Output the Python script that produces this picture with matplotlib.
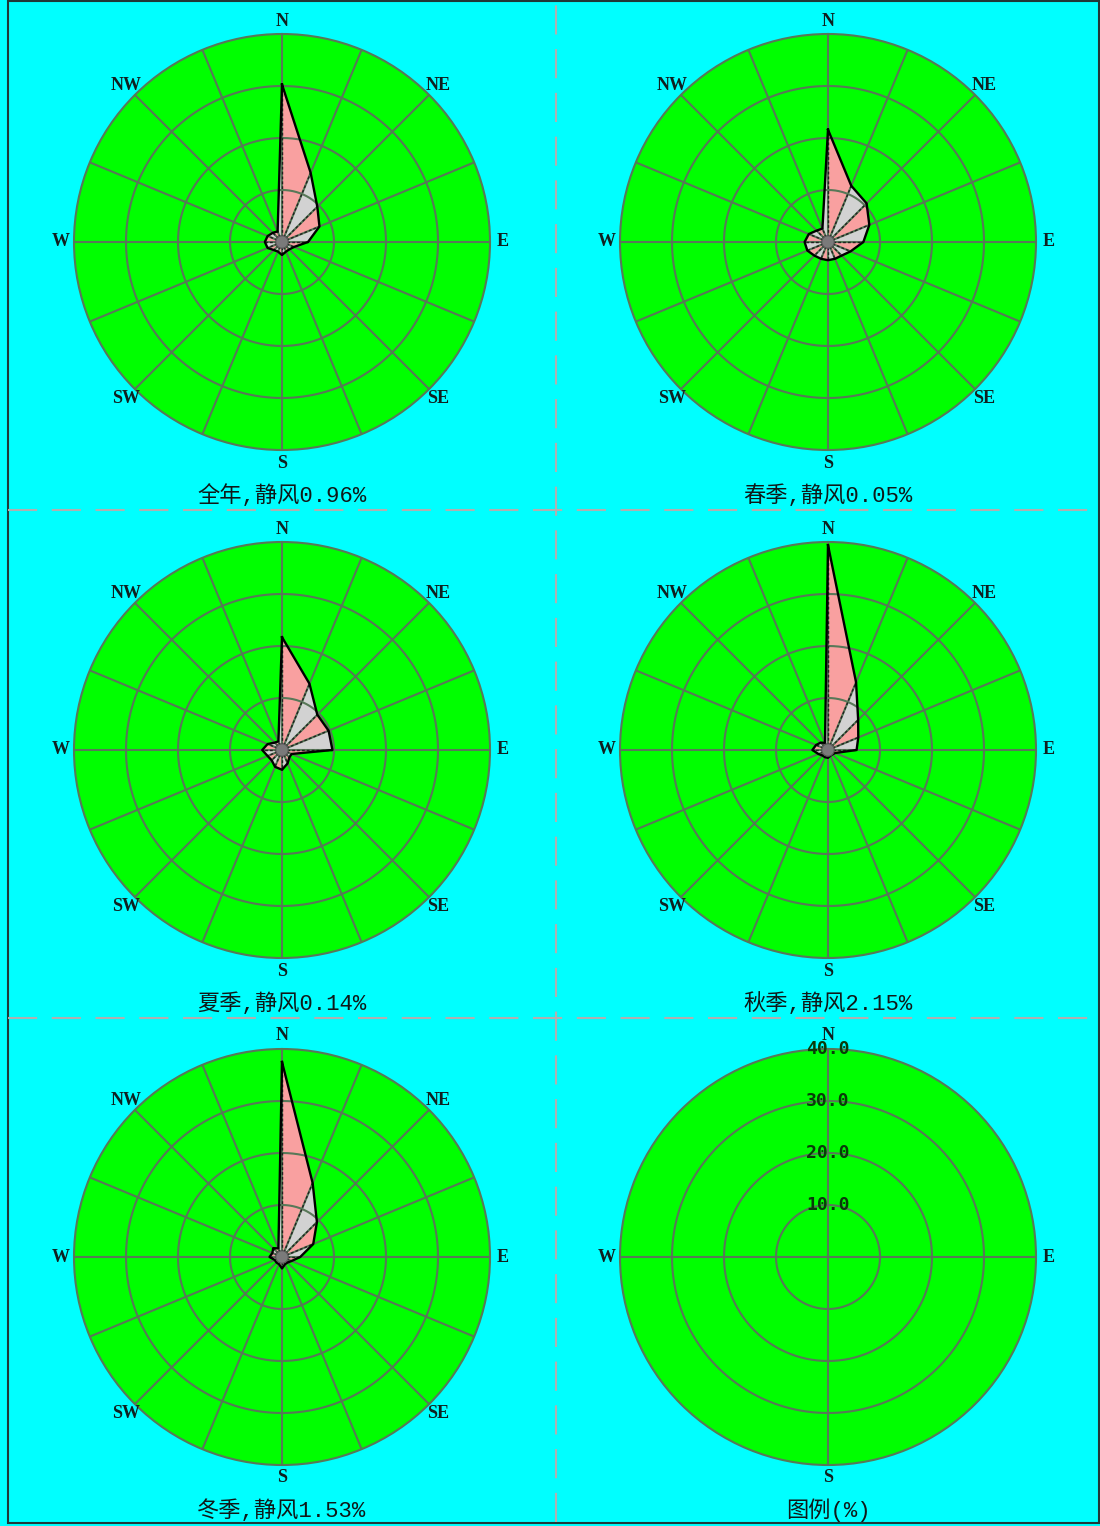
import numpy as np
import matplotlib
matplotlib.use("Agg")
import matplotlib.pyplot as plt
from matplotlib.lines import Line2D
from matplotlib.patches import Rectangle

# ---------------- data ----------------
directions = ['N', 'NNE', 'NE', 'ENE', 'E', 'ESE', 'SE', 'SSE',
              'S', 'SSW', 'SW', 'WSW', 'W', 'WNW', 'NW', 'NNW']
annual = [30.3, 14.4, 9.6, 7.8, 5.0, 2.5, 2.0, 2.0, 2.5, 2.0, 2.2, 3.0, 3.3, 3.0, 2.5, 2.2]
spring = [21.6, 11.7, 10.5, 8.6, 6.8, 4.7, 3.7, 3.5, 3.5, 3.5, 3.7, 4.3, 4.5, 4.0, 3.1, 2.8]
summer = [21.7, 13.8, 9.6, 9.7, 9.7, 2.0, 2.0, 2.8, 3.8, 3.5, 2.8, 3.0, 3.8, 3.0, 2.0, 1.8]
autumn = [39.4, 14.1, 8.2, 6.3, 5.5, 1.5, 1.2, 1.2, 1.5, 1.5, 1.5, 2.0, 3.0, 2.5, 2.0, 1.5]
winter = [37.5, 15.4, 9.5, 6.5, 3.5, 2.0, 1.5, 1.5, 2.2, 1.5, 1.5, 1.5, 2.4, 2.0, 2.4, 1.8]
season_values = [annual, spring, summer, autumn, winter]
season_names = ['全年', '春季', '夏季', '秋季', '冬季']
calm_pct = [0.96, 0.05, 0.14, 2.15, 1.53]
legend_title = '图例(%)'
ring_values = [10, 20, 30, 40]
ring_labels = ['10.0', '20.0', '30.0', '40.0']
label_dirs = ['N', 'NE', 'E', 'SE', 'S', 'SW', 'W', 'NW']
legend_dirs = ['N', 'E', 'S', 'W']

# ---------------- style ----------------
W, H = 1100, 1526
BG = '#00FFFF'
GREEN = '#00FF00'
GRID = '#587858'
PINK = '#F9A0A0'
GRAY = '#D2D2D2'
R = 208
col_x = [282, 828]
row_y = [242, 750, 1257]
RMAX = 40
CAP_FAMILY = ['Liberation Mono', 'Noto Sans CJK SC']

fig = plt.figure(figsize=(W / 100, H / 100), dpi=100)
fig.patch.set_facecolor(BG)

ang_all = np.arange(16) * 22.5
dir_angle = dict(zip(directions, np.deg2rad(ang_all)))


def make_ax(cx, cy):
    ax = fig.add_axes([(cx - R) / W, 1 - (cy + R) / H, 2 * R / W, 2 * R / H],
                      projection='polar')
    ax.set_theta_zero_location('N')
    ax.set_theta_direction(-1)
    ax.set_ylim(0, RMAX)
    ax.set_facecolor(GREEN)
    ax.grid(False)
    ax.set_xticks([])
    ax.set_yticks([])
    ax.spines['polar'].set_color(GRID)
    ax.spines['polar'].set_linewidth(1.5)
    return ax


def draw_rings(ax):
    t = np.linspace(0, 2 * np.pi, 361)
    for v in ring_values[:-1]:
        ax.plot(t, np.full_like(t, v), color=GRID, lw=1.5, zorder=3)


def dir_labels(ax, labs):
    for lab in labs:
        ax.text(dir_angle[lab], 42.5, lab, ha='center', va='center',
                fontsize=13, fontweight='bold', family='Liberation Serif',
                color='#102020', clip_on=False)


for k, vals in enumerate(season_values):
    row, col = divmod(k, 2)
    cx, cy = col_x[col], row_y[row]
    ax = make_ax(cx, cy)
    th = np.deg2rad(ang_all)
    r = np.asarray(vals)
    # fan of triangles
    for i in range(16):
        j = (i + 1) % 16
        tj = th[j] if j else 2 * np.pi
        ax.fill([0, th[i], tj], [0, r[i], r[j]],
                color=PINK if i % 2 == 0 else GRAY, lw=0, zorder=2)
    # grid on top of petals
    draw_rings(ax)
    for a in th:
        ax.plot([a, a], [0, RMAX], color=GRID, lw=1.5, zorder=3)
    # dividers
    for i in range(16):
        ax.plot([th[i], th[i]], [0, r[i]], color='#202020', lw=1.0,
                ls=(0, (2, 1.5)), zorder=4)
    # outline
    ax.plot(np.append(th, 2 * np.pi), np.append(r, r[0]), color='black',
            lw=1.7, zorder=5)
    # calm disk
    tc = np.linspace(0, 2 * np.pi, 60)
    ax.fill(tc, np.full_like(tc, 1.2), color='#7a7a7a', lw=0.8,
            edgecolor='#555555', zorder=6)
    dir_labels(ax, label_dirs)
    fig.text(cx / W, 1 - (cy + 254) / H,
             f'{season_names[k]},静风{calm_pct[k]:.2f}%',
             ha='center', va='center', fontsize=16, family=CAP_FAMILY,
             color='#101818')

# legend panel
cx, cy = col_x[1], row_y[2]
ax = make_ax(cx, cy)
draw_rings(ax)
for lab in legend_dirs:
    ax.plot([dir_angle[lab], dir_angle[lab]], [0, RMAX], color=GRID, lw=1.5, zorder=3)
dir_labels(ax, legend_dirs)
for v, s in zip(ring_values, ring_labels):
    ax.text(0, v, s, ha='center', va='center', fontsize=13, fontweight='bold',
            family='DejaVu Sans Mono', color='#0a3a0a', zorder=7, clip_on=False)
fig.text(cx / W, 1 - (cy + 253) / H, legend_title, ha='center', va='center',
         fontsize=16, family=CAP_FAMILY, color='#101818')

# dashed dividers and border
dash_kw = dict(color='#b0b0b0', lw=1.5, ls=(0, (14, 7)), transform=fig.transFigure)
for y in [510, 1018]:
    fig.add_artist(Line2D([8 / W, 1], [1 - y / H, 1 - y / H], **dash_kw))
fig.add_artist(Line2D([556 / W, 556 / W], [1 - 1522 / H, 1], **dash_kw))
fig.add_artist(Rectangle((8 / W, 1 - 1523 / H), (1099 - 8) / W, (1523 - 1) / H,
                         fill=False, edgecolor='#203838', lw=1.5,
                         transform=fig.transFigure))

fig.savefig('out.png', dpi=100, facecolor=BG)
